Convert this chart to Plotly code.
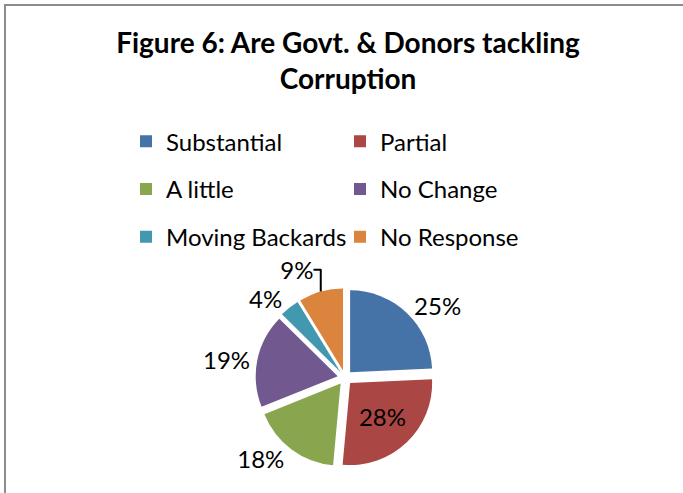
import plotly.graph_objects as go

# Survey responses: share of answers per category (%)
categories = ["Substantial", "Partial", "A little", "No Change", "Moving Backards", "No Response"]
shares = [25, 28, 18, 19, 4, 9]
colors = ["#4572A7", "#AA4643", "#89A54E", "#71588F", "#4198AF", "#DB843D"]

W, H = 683, 493
FONT = "Lato"

fig = go.Figure()

fig.add_trace(go.Pie(
    labels=categories,
    values=shares,
    sort=False,
    direction="clockwise",
    rotation=0,
    pull=[0.09] * len(shares),
    marker=dict(colors=colors, line=dict(width=0)),
    texttemplate="%{value}%",
    textposition=["outside", "inside", "outside", "outside", "outside", "outside"],
    textfont=dict(family=FONT, size=24, color="black"),
    insidetextfont=dict(family=FONT, size=24, color="black"),
    outsidetextfont=dict(family=FONT, size=24, color="black"),
    hovertemplate="%{label}: %{value}%<extra></extra>",
    showlegend=False,
    domain=dict(x=[255 / W, 435 / W], y=[1 - 470 / H, 1 - 290 / H]),
))

# Legend entries in two columns
left_col = [0, 2, 4]
right_col = [1, 3, 5]
for idx in range(len(categories)):
    fig.add_trace(go.Scatter(
        x=[None], y=[None], mode="markers",
        marker=dict(symbol="square", size=12, color=colors[idx]),
        name=categories[idx],
        legendgroup=categories[idx],
        legend="legend" if idx in left_col else "legend2",
        showlegend=True,
        hoverinfo="skip",
    ))

legend_style = dict(
    orientation="v",
    font=dict(family=FONT, size=24, color="black"),
    bgcolor="rgba(0,0,0,0)",
    tracegroupgap=13.5,
    yanchor="top",
    xanchor="left",
    itemwidth=30,
)

fig.update_layout(
    width=W, height=H,
    margin=dict(l=0, r=0, t=0, b=0),
    paper_bgcolor="white",
    plot_bgcolor="white",
    title=dict(
        text="<b>Figure 6: Are Govt. & Donors tackling<br>Corruption</b>",
        font=dict(family=FONT, size=28, color="black"),
        x=348 / W, xanchor="center",
        y=1 - 53 / H, yanchor="top",
    ),
    legend=dict(x=126 / W, y=1 - 120 / H, **legend_style),
    legend2=dict(x=340 / W, y=1 - 120 / H, **legend_style),
    xaxis=dict(visible=False),
    yaxis=dict(visible=False),
    shapes=[dict(
        type="rect", xref="paper", yref="paper",
        x0=5 / W, x1=1.05, y0=-0.05, y1=1 - 5 / H,
        line=dict(color="#8c8c8c", width=2),
        fillcolor="rgba(0,0,0,0)",
        layer="below",
    )],
)

fig.write_html("out.html")
